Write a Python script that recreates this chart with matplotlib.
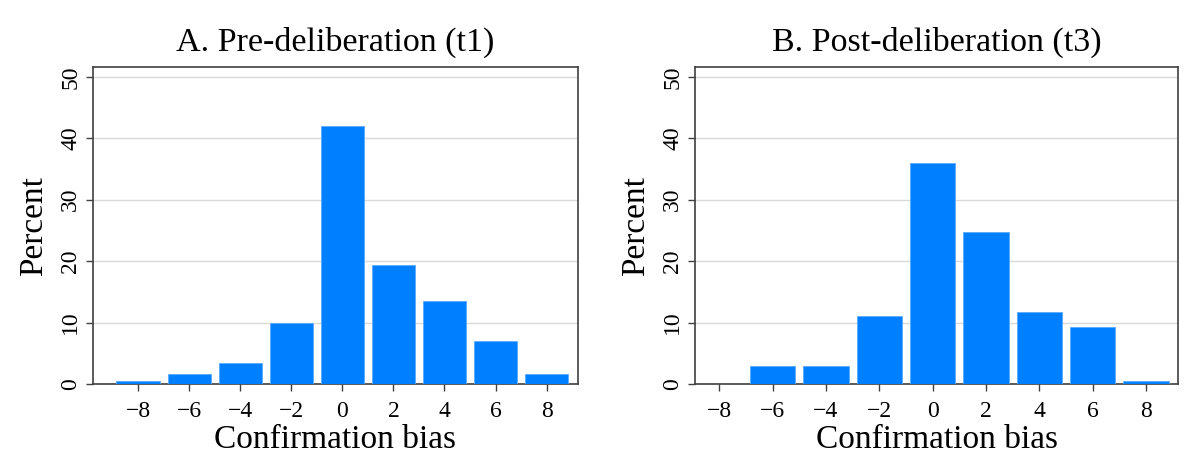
import matplotlib
matplotlib.use("Agg")
import matplotlib.pyplot as plt

# Confirmation bias bins and percent of respondents
bias_values = [-8, -6, -4, -2, 0, 2, 4, 6, 8]
pct_t1 = [0.45, 1.6, 3.4, 9.9, 42.0, 19.45, 13.5, 6.95, 1.6]
pct_t3 = [0.0, 2.85, 2.85, 11.1, 36.0, 24.8, 11.7, 9.3, 0.45]
titles = ["A. Pre-deliberation (t1)", "B. Post-deliberation (t3)"]
y_ticks = [0, 10, 20, 30, 40, 50]

BAR_COLOR = "#0080FF"
SPINE_COLOR = "#404040"

plt.rcParams["font.family"] = ["Liberation Serif", "DejaVu Serif"]

fig = plt.figure(figsize=(12, 4.72), dpi=100)
W, H = 1200, 472
# axes boxes in pixels (left, right, top, bottom)
boxes = [(93, 578, 67, 384), (695, 1178, 67, 384)]
xlims = [(-9.77, 9.23), (-8.91, 9.2)]

for (l, r, t, b), xl, title, pct in zip(boxes, xlims, titles, [pct_t1, pct_t3]):
    ax = fig.add_axes([l / W, 1 - b / H, (r - l) / W, (b - t) / H])
    ax.bar(bias_values, pct, width=1.7, color=BAR_COLOR,
           edgecolor="#5aa9ff", linewidth=0.6, zorder=3)
    ax.set_xlim(*xl)
    ax.set_ylim(0, 51.6)
    ax.set_xticks(bias_values)
    ax.set_yticks(y_ticks)
    ax.set_yticklabels([str(v) for v in y_ticks], rotation=90, va="center")
    ax.grid(axis="y", color="#d9d9d9", linewidth=1.0, zorder=0)
    ax.tick_params(axis="both", direction="out", length=5, width=1.0,
                   color=SPINE_COLOR, labelsize=17)
    ax.tick_params(axis="x", pad=7)
    for sp in ax.spines.values():
        sp.set_color(SPINE_COLOR)
        sp.set_linewidth(1.2)
    ax.set_title(title, fontsize=24.5, pad=12)
    ax.set_xlabel("Confirmation bias", fontsize=24, labelpad=2)
    ax.set_ylabel("Percent", fontsize=24, labelpad=8)

fig.savefig("out.png", dpi=100)
